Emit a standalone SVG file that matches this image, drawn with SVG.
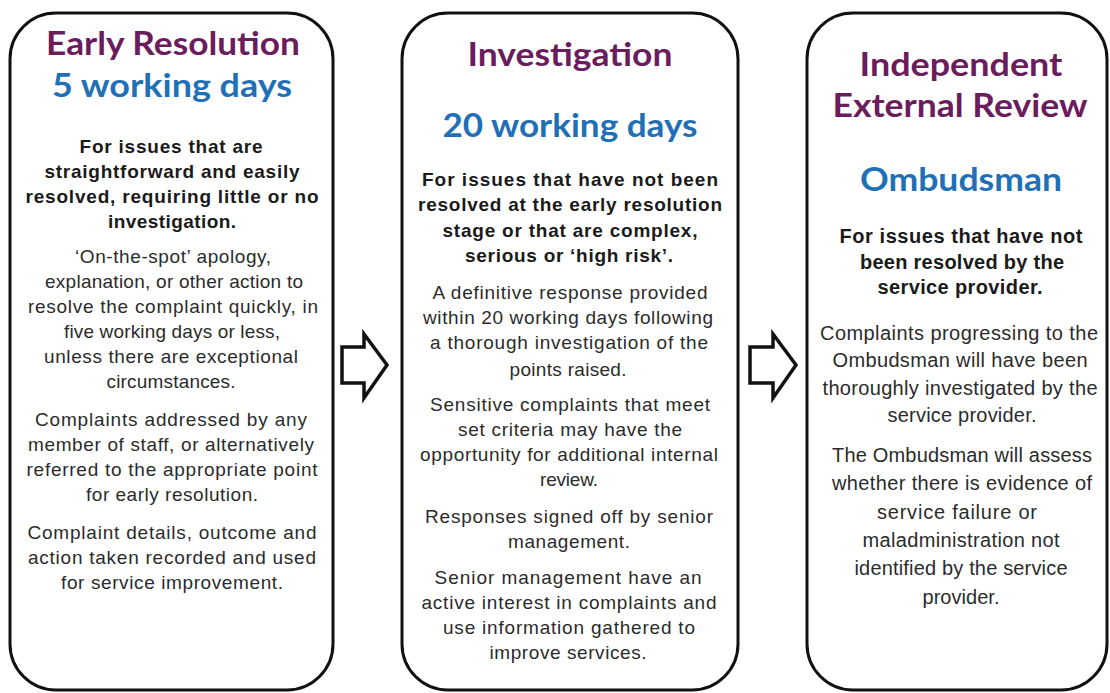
<svg xmlns="http://www.w3.org/2000/svg" width="1110" height="693" viewBox="0 0 1110 693">
<style>
.box{fill:#ffffff;stroke:#111111;stroke-width:3}
.arrow{fill:#ffffff;stroke:#111111;stroke-width:3.5;stroke-linejoin:miter}
.t{font-family:Lato,"Open Sans","Liberation Sans",sans-serif;font-weight:700;font-size:32px;text-anchor:middle}
.p{fill:#6b1c5c}
.b{fill:#1f70b6}
.h{font-family:"Liberation Sans",Arial,sans-serif;font-weight:700;font-size:19px;fill:#1a1a1a;text-anchor:middle}
.r{font-family:"Liberation Sans",Arial,sans-serif;font-weight:400;font-size:19px;fill:#2b2b2b;text-anchor:middle}
.big{font-size:20px}
</style>
<rect width="1110" height="693" fill="#ffffff"/>

<g id="connectors">
<polygon class="arrow" points="342,347 364,347 364,334 387,365 364,398 364,383 342,383"/>
<polygon class="arrow" points="750,347 773,347 773,334 796,365 773,398 773,383 750,383"/>
</g>

<g id="early-resolution">
<rect class="box" x="10" y="13" width="323" height="677" rx="46" ry="46"/>
<text class="t p" x="173" y="55" textLength="254" lengthAdjust="spacingAndGlyphs">Early Resolution</text>
<text class="t b" x="172" y="97" textLength="240" lengthAdjust="spacingAndGlyphs">5 working days</text>
<text class="h" x="171" y="153" textLength="183">For issues that are</text>
<text class="h" x="172" y="178" textLength="255">straightforward and easily</text>
<text class="h" x="172" y="203" textLength="293">resolved, requiring little or no</text>
<text class="h" x="172" y="228" textLength="128">investigation.</text>
<text class="r" x="173" y="263" textLength="196">‘On-the-spot’ apology,</text>
<text class="r" x="174" y="288" textLength="258">explanation, or other action to</text>
<text class="r" x="173" y="313" textLength="290">resolve the complaint quickly, in</text>
<text class="r" x="172" y="338" textLength="216">five working days or less,</text>
<text class="r" x="171" y="363" textLength="254">unless there are exceptional</text>
<text class="r" x="171" y="388" textLength="129">circumstances.</text>
<text class="r" x="171" y="426" textLength="272">Complaints addressed by any</text>
<text class="r" x="171" y="451" textLength="286">member of staff, or alternatively</text>
<text class="r" x="172" y="476" textLength="291">referred to the appropriate point</text>
<text class="r" x="172" y="501" textLength="172">for early resolution.</text>
<text class="r" x="172" y="539" textLength="289">Complaint details, outcome and</text>
<text class="r" x="172" y="564" textLength="288">action taken recorded and used</text>
<text class="r" x="172" y="589" textLength="222">for service improvement.</text>
</g>

<g id="investigation">
<rect class="box" x="402" y="13" width="336" height="677" rx="46" ry="46"/>
<text class="t p" x="570" y="66" textLength="205" lengthAdjust="spacingAndGlyphs">Investigation</text>
<text class="t b" x="570" y="137" textLength="255" lengthAdjust="spacingAndGlyphs">20 working days</text>
<text class="h" x="570" y="186" textLength="296">For issues that have not been</text>
<text class="h" x="570" y="211" textLength="304">resolved at the early resolution</text>
<text class="h" x="570" y="237" textLength="255">stage or that are complex,</text>
<text class="h" x="569" y="262" textLength="208">serious or ‘high risk’.</text>
<text class="r" x="570" y="299" textLength="275">A definitive response provided</text>
<text class="r" x="568" y="324" textLength="290">within 20 working days following</text>
<text class="r" x="569" y="349" textLength="278">a thorough investigation of the</text>
<text class="r" x="568" y="376" textLength="117">points raised.</text>
<text class="r" x="570" y="411" textLength="280">Sensitive complaints that meet</text>
<text class="r" x="570" y="436" textLength="224">set criteria may have the</text>
<text class="r" x="569" y="461" textLength="298">opportunity for additional internal</text>
<text class="r" x="569" y="486" textLength="58">review.</text>
<text class="r" x="569" y="523" textLength="288">Responses signed off by senior</text>
<text class="r" x="569" y="548" textLength="122">management.</text>
<text class="r" x="568" y="584" textLength="267">Senior management have an</text>
<text class="r" x="569" y="609" textLength="295">active interest in complaints and</text>
<text class="r" x="569" y="634" textLength="252">use information gathered to</text>
<text class="r" x="568" y="659" textLength="157">improve services.</text>
</g>

<g id="independent-external-review">
<rect class="box" x="807" y="13" width="300" height="677" rx="46" ry="46"/>
<text class="t p" x="961" y="76" textLength="203" lengthAdjust="spacingAndGlyphs">Independent</text>
<text class="t p" x="960" y="117" textLength="255" lengthAdjust="spacingAndGlyphs">External Review</text>
<text class="t b" x="961" y="191" textLength="202" lengthAdjust="spacingAndGlyphs">Ombudsman</text>
<text class="h big" x="961" y="243" textLength="243">For issues that have not</text>
<text class="h big" x="962" y="269" textLength="204">been resolved by the</text>
<text class="h big" x="960" y="294" textLength="165">service provider.</text>
<text class="r big" x="959" y="340" textLength="278">Complaints progressing to the</text>
<text class="r big" x="960" y="367" textLength="255">Ombudsman will have been</text>
<text class="r big" x="960" y="395" textLength="275">thoroughly investigated by the</text>
<text class="r big" x="962" y="422" textLength="149">service provider.</text>
<text class="r big" x="962" y="462" textLength="260">The Ombudsman will assess</text>
<text class="r big" x="962" y="490" textLength="260">whether there is evidence of</text>
<text class="r big" x="957" y="519" textLength="160">service failure or</text>
<text class="r big" x="961" y="547" textLength="197">maladministration not</text>
<text class="r big" x="961" y="575" textLength="213">identified by the service</text>
<text class="r big" x="961" y="604" textLength="77">provider.</text>
</g>
</svg>
